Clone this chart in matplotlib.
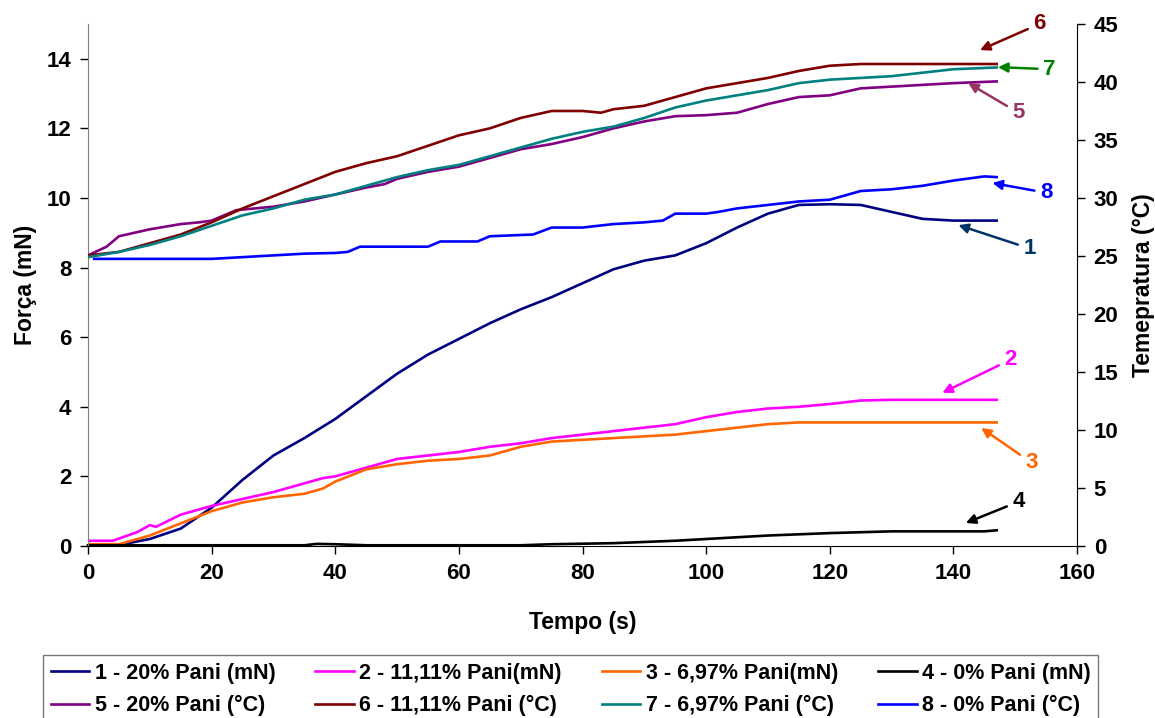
import matplotlib.pyplot as plt

plt.rcParams['font.family'] = ['Liberation Sans', 'DejaVu Sans']
plt.rcParams['font.weight'] = 'bold'

## forca (mN) em funcao do tempo (s)
t1 = [0, 5, 10, 15, 20, 25, 30, 35, 40, 45, 50, 55, 60, 65, 70, 75, 80, 85, 90, 95,
      100, 105, 110, 115, 120, 125, 130, 135, 140, 147]
f1 = [0.0, 0.03, 0.2, 0.5, 1.1, 1.9, 2.6, 3.1, 3.65, 4.3, 4.95, 5.5, 5.95, 6.4, 6.8, 7.15,
      7.55, 7.95, 8.2, 8.35, 8.7, 9.15, 9.55, 9.8, 9.82, 9.8, 9.6, 9.4, 9.35, 9.35]

t2 = [0, 4, 8, 10, 11, 15, 20, 25, 30, 35, 38, 40, 45, 50, 55, 60, 65, 70, 75, 80, 85,
      90, 95, 100, 105, 110, 115, 120, 125, 130, 147]
f2 = [0.15, 0.15, 0.4, 0.6, 0.55, 0.9, 1.15, 1.35, 1.55, 1.8, 1.95, 2.0, 2.25, 2.5, 2.6,
      2.7, 2.85, 2.95, 3.1, 3.2, 3.3, 3.4, 3.5, 3.7, 3.85, 3.95, 4.0, 4.08, 4.18, 4.2, 4.2]

t3 = [0, 5, 10, 15, 20, 25, 30, 35, 38, 40, 45, 50, 55, 60, 65, 70, 75, 80, 85, 90, 95,
      100, 105, 110, 115, 147]
f3 = [0.05, 0.05, 0.3, 0.65, 1.0, 1.25, 1.4, 1.5, 1.65, 1.85, 2.2, 2.35, 2.45, 2.5, 2.6,
      2.85, 3.0, 3.05, 3.1, 3.15, 3.2, 3.3, 3.4, 3.5, 3.55, 3.55]

t4 = [0, 35, 37, 40, 45, 70, 75, 85, 95, 100, 110, 120, 130, 145, 147]
f4 = [0.02, 0.02, 0.06, 0.05, 0.02, 0.02, 0.05, 0.08, 0.15, 0.2, 0.3, 0.37, 0.42, 0.42, 0.45]

## temperatura (°C) em funcao do tempo (s)
t5 = [0, 3, 5, 10, 15, 18, 20, 24, 30, 35, 40, 45, 48, 50, 55, 60, 65, 70, 75, 80, 85,
      90, 95, 100, 105, 110, 115, 120, 125, 130, 135, 140, 147]
T5 = [25.05, 25.8, 26.7, 27.3, 27.75, 27.9, 28.05, 28.95, 29.25, 29.7, 30.3, 30.9, 31.2,
      31.65, 32.25, 32.7, 33.45, 34.2, 34.65, 35.25, 36.0, 36.6, 37.05, 37.14, 37.35, 38.1,
      38.7, 38.85, 39.45, 39.6, 39.75, 39.9, 40.05]

t6 = [0, 5, 10, 15, 20, 25, 30, 35, 40, 45, 50, 55, 60, 65, 70, 75, 80, 83, 85, 90, 95,
      100, 105, 110, 115, 120, 125, 147]
T6 = [25.05, 25.35, 26.1, 26.85, 27.9, 29.1, 30.15, 31.2, 32.25, 33.0, 33.6, 34.5, 35.4,
      36.0, 36.9, 37.5, 37.5, 37.35, 37.65, 37.95, 38.7, 39.45, 39.9, 40.35, 40.95, 41.4,
      41.55, 41.55]

t7 = [0, 5, 10, 15, 20, 25, 30, 35, 40, 45, 50, 55, 60, 65, 70, 75, 80, 85, 90, 95, 100,
      105, 110, 115, 120, 125, 130, 135, 140, 147]
T7 = [24.9, 25.35, 25.95, 26.7, 27.6, 28.5, 29.1, 29.85, 30.3, 31.05, 31.8, 32.4, 32.85,
      33.6, 34.35, 35.1, 35.7, 36.15, 36.9, 37.8, 38.4, 38.85, 39.3, 39.9, 40.2, 40.35,
      40.5, 40.8, 41.1, 41.25]

t8 = [1, 20, 30, 35, 40, 42, 44, 50, 55, 57, 63, 65, 72, 75, 80, 85, 90, 93, 95, 100, 102,
      105, 110, 115, 120, 123, 125, 130, 135, 140, 145, 147]
T8 = [24.75, 24.75, 25.05, 25.2, 25.26, 25.35, 25.8, 25.8, 25.8, 26.25, 26.25, 26.7, 26.85,
      27.45, 27.45, 27.75, 27.9, 28.05, 28.65, 28.65, 28.8, 29.1, 29.4, 29.7, 29.85, 30.3,
      30.6, 30.75, 31.05, 31.5, 31.86, 31.8]

fig = plt.figure(figsize=(11.55, 7.18), dpi=100)
ax = fig.add_axes([0.0762, 0.2396, 0.8563, 0.727])
ax2 = ax.twinx()

lw = 1.9
l1, = ax.plot(t1, f1, color='#000080', lw=lw, label='1 - 20% Pani (mN)')
l2, = ax.plot(t2, f2, color='#FF00FF', lw=lw, label='2 - 11,11% Pani(mN)')
l3, = ax.plot(t3, f3, color='#FF6600', lw=lw, label='3 - 6,97% Pani(mN)')
l4, = ax.plot(t4, f4, color='black', lw=lw, label='4 - 0% Pani (mN)', clip_on=False)
l5, = ax2.plot(t5, T5, color='#800080', lw=lw, label='5 - 20% Pani (°C)')
l6, = ax2.plot(t6, T6, color='#800000', lw=lw, label='6 - 11,11% Pani (°C)')
l7, = ax2.plot(t7, T7, color='#008080', lw=lw, label='7 - 6,97% Pani (°C)')
l8, = ax2.plot(t8, T8, color='#0000FF', lw=lw, label='8 - 0% Pani (°C)')

ax.set_xlim(0, 160)
ax.set_ylim(0, 15)
ax2.set_ylim(0, 45)
ax.set_xticks(range(0, 161, 20))
ax.set_yticks(range(0, 15, 2))
ax2.set_yticks(range(0, 46, 5))

for a in (ax, ax2):
    a.spines['top'].set_visible(False)
    a.tick_params(labelsize=16, length=6, width=1, direction='out', pad=6)
ax.spines['left'].set_color('#808080')
ax2.spines['left'].set_visible(False)
ax.spines['right'].set_visible(False)
ax2.spines['bottom'].set_visible(False)

ax.set_xlabel('Tempo (s)', fontsize=16.5, fontweight='bold', labelpad=20)
ax.set_ylabel('Força (mN)', fontsize=16.5, fontweight='bold', labelpad=7)
ax2.set_ylabel('Temepratura (°C)', fontsize=16.5, fontweight='bold', labelpad=10)

## setas com os numeros das curvas
notas = [('6', (144.3, 14.25), (152.9, 15.0), '#800000'),
         ('7', (147.2, 13.76), (154.5, 13.7), '#008000'),
         ('5', (142.4, 13.3), (149.5, 12.45), '#993366'),
         ('8', (146.3, 10.43), (154.0, 10.15), '#0000FF'),
         ('1', (140.8, 9.22), (151.3, 8.55), '#003366'),
         ('2', (138.2, 4.4), (148.2, 5.35), '#FF00FF'),
         ('3', (144.5, 3.39), (151.6, 2.4), '#FF6600'),
         ('4', (142.0, 0.66), (149.5, 1.27), 'black')]
for txt, ponta, pos, cor in notas:
    ax2.annotate(txt, xy=(ponta[0], ponta[1] * 3), xytext=(pos[0], pos[1] * 3),
                 color=cor, fontsize=16, fontweight='bold', ha='left', va='center',
                 annotation_clip=False,
                 arrowprops=dict(arrowstyle='-|>', color=cor, lw=1.8,
                                 mutation_scale=14, shrinkA=2, shrinkB=0))

## legenda em linhas (matplotlib preenche por coluna)
handles = [l1, l5, l2, l6, l3, l7, l4, l8]
leg = fig.legend(handles=handles, labels=[h.get_label() for h in handles],
                 loc='upper left', bbox_to_anchor=(43 / 1155, 1 - 655 / 718), ncol=4,
                 prop={'weight': 'bold', 'size': 15.5}, frameon=True,
                 fancybox=False, edgecolor='#555555', handlelength=1.8,
                 handletextpad=0.25, columnspacing=1.85, borderpad=0.35,
                 labelspacing=0.55, borderaxespad=0)
leg.get_frame().set_linewidth(1)

fig.savefig('out.png', dpi=100)
